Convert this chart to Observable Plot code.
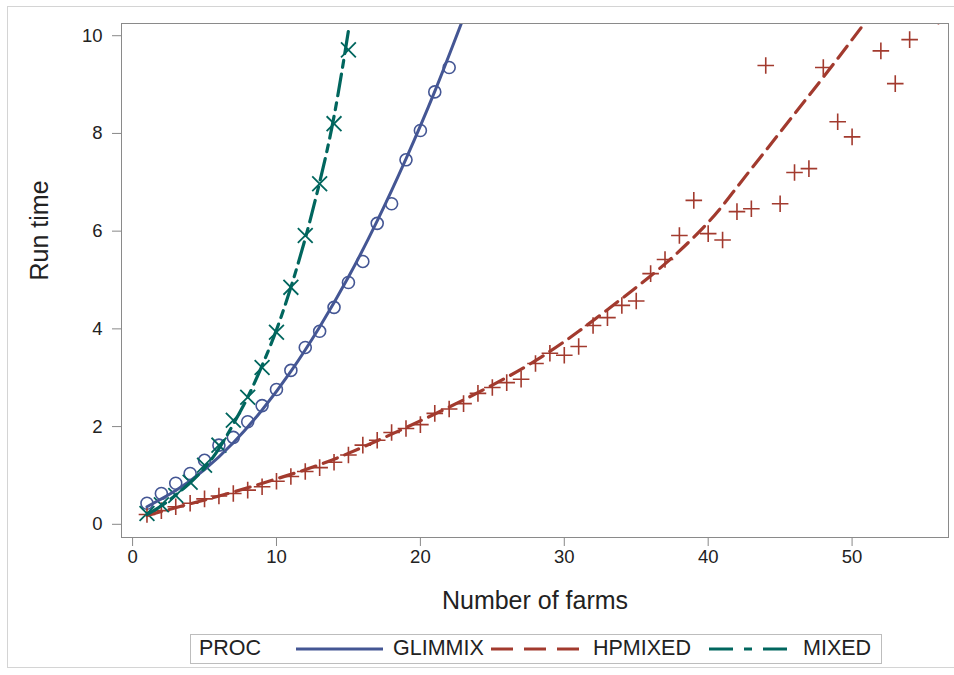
<!DOCTYPE html>
<html>
<head>
<meta charset="utf-8">
<script src="https://cdn.jsdelivr.net/npm/d3@7"></script>
<script src="https://cdn.jsdelivr.net/npm/@observablehq/plot@0.6"></script>
<style>
  body { margin: 0; background: #fff; font-family: "Liberation Sans", Arial, sans-serif; }
  #wrap { position: relative; width: 954px; height: 675px; overflow: hidden; }
  #outer { position: absolute; left: 7px; top: 6px; width: 960px; height: 662px; border: 1px solid #d4d4d4; box-sizing: border-box; }
  #chart { position: absolute; left: 0; top: 0; }
  #legend { position: absolute; left: 190px; top: 634px; width: 692px; height: 30px; border: 1px solid #bdbdbd; box-sizing: border-box; font-size: 21.5px; color: #222; white-space: nowrap; }
  #legend .t { position: absolute; top: 50%; transform: translateY(-50%); line-height: 1; }
  #legend svg { position: absolute; top: 9px; }
</style>
</head>
<body>
<div id="wrap">
  <div id="outer"></div>
  <div id="chart"></div>
  <div id="legend"></div>
</div>
<script>
// ---- data ----
const procs = ["GLIMMIX", "HPMIXED", "MIXED"];
const colors = ["#445694", "#A23A2E", "#01665E"];

// observed run times
const glimmixFarms = [1,2,3,4,5,6,7,8,9,10,11,12,13,14,15,16,17,18,19,20,21,22];
const glimmixTime  = [0.43,0.63,0.84,1.04,1.31,1.62,1.78,2.10,2.43,2.76,3.15,3.62,3.95,4.44,4.95,5.38,6.16,6.56,7.46,8.06,8.85,9.35];

const hpmixedFarms = [1,2,3,4,5,6,7,8,9,10,11,12,13,14,15,16,17,18,19,20,21,22,23,24,25,26,27,28,29,30,31,32,33,34,35,36,37,38,39,40,41,42,43,44,45,46,47,48,49,50,52,53,54,56];
const hpmixedTime  = [0.20,0.28,0.36,0.43,0.52,0.58,0.63,0.70,0.77,0.88,0.98,1.08,1.16,1.27,1.42,1.62,1.72,1.88,1.96,2.04,2.27,2.36,2.47,2.68,2.80,2.90,2.97,3.29,3.50,3.46,3.64,4.07,4.23,4.48,4.57,5.13,5.42,5.91,6.63,5.95,5.82,6.40,6.46,9.39,6.56,7.20,7.28,9.35,8.24,7.93,9.69,9.02,9.92,10.40];

const mixedFarms = [1,2,3,4,5,6,7,8,9,10,11,12,13,14,15];
const mixedTime  = [0.22,0.40,0.59,0.86,1.21,1.62,2.13,2.60,3.21,3.93,4.85,5.91,6.97,8.20,9.71];

// fitted curves
const glimmixFitFarms = [1,3,5,7,9,11,13,15,17,19,21,23];
const glimmixFit      = [0.36,0.69,1.12,1.67,2.34,3.13,4.04,5.06,6.21,7.48,8.86,10.37];

const hpmixedFitFarms = [1,4,7,10,13,16,19,22,25,28,31,34,37,40,42,44,46,48,50,52];
const hpmixedFit      = [0.18,0.42,0.66,0.93,1.22,1.58,1.98,2.40,2.85,3.35,3.95,4.62,5.33,6.18,6.90,7.65,8.40,9.15,9.92,10.70];

const mixedFitFarms = [1,2,3,4,5,6,7,8,9,10,11,12,13,14,15];
const mixedFit      = [0.20,0.38,0.60,0.85,1.15,1.55,2.05,2.60,3.25,3.98,4.85,5.85,7.00,8.35,10.10];

const xTicks = [0,10,20,30,40,50];
const yTicks = [0,2,4,6,8,10];

// ---- build tables ----
const zip = (xs, ys) => xs.map((x, i) => ({x, y: ys[i]}));
const obsG = zip(glimmixFarms, glimmixTime);
const obsH = zip(hpmixedFarms, hpmixedTime);
const obsM = zip(mixedFarms, mixedTime);
const fitG = zip(glimmixFitFarms, glimmixFit);
const fitH = zip(hpmixedFitFarms, hpmixedFit);
const fitM = zip(mixedFitFarms, mixedFit);

const dashes = {GLIMMIX: null, HPMIXED: "15,8", MIXED: "22,7,7,7"};

const chart = Plot.plot({
  width: 954,
  height: 620,
  marginLeft: 121,
  marginTop: 23,
  marginRight: 6,
  marginBottom: 83,
  style: {fontFamily: "'Liberation Sans', Arial, sans-serif", background: "transparent", color: "#222"},
  x: {domain: [-0.77, 56.7]},
  y: {domain: [-0.27, 10.25]},
  marks: [
    Plot.axisX({ticks: xTicks, tickSize: 9, tickPadding: 3, fontSize: 18.5, label: null, stroke: "#888", color: "#222"}),
    Plot.axisY({ticks: yTicks, tickSize: 9, tickPadding: 10, fontSize: 18.5, label: null, stroke: "#888", color: "#222"}),
    // observed points
    Plot.dot(obsG, {x: "x", y: "y", symbol: "circle", r: 6, stroke: colors[0], fill: "none", strokeWidth: 1.6, clip: true}),
    Plot.dot(obsH, {x: "x", y: "y", symbol: "plus", r: 5.4, stroke: colors[1], fill: "none", strokeWidth: 1.6, clip: true}),
    Plot.dot(obsM, {x: "x", y: "y", symbol: "times", r: 6.8, stroke: colors[2], fill: "none", strokeWidth: 1.8, clip: true}),
    // fitted lines
    Plot.line(fitG, {x: "x", y: "y", stroke: colors[0], strokeWidth: 3, curve: "natural", clip: true}),
    Plot.line(fitH, {x: "x", y: "y", stroke: colors[1], strokeWidth: 3.2, curve: "natural", strokeDasharray: dashes.HPMIXED, clip: true}),
    Plot.line(fitM, {x: "x", y: "y", stroke: colors[2], strokeWidth: 3.2, curve: "natural", strokeDasharray: dashes.MIXED, clip: true}),
    Plot.frame({stroke: "#8a8a8a"}),
    // axis titles
    Plot.text(["Number of farms"], {frameAnchor: "bottom", dy: 71, fontSize: 25, fill: "#222", text: d => d}),
    Plot.text(["Run time"], {frameAnchor: "left", dx: -82, rotate: -90, fontSize: 25, fill: "#222", text: d => d})
  ]
});
document.getElementById("chart").appendChild(chart);

// ---- legend (positions relative to legend box) ----
const legend = document.getElementById("legend");
function addText(txt, left) {
  const s = document.createElement("span");
  s.className = "t";
  s.textContent = txt;
  s.style.left = left + "px";
  legend.appendChild(s);
}
function addSample(color, dash, left, w) {
  const ns = "http://www.w3.org/2000/svg";
  const svg = document.createElementNS(ns, "svg");
  svg.setAttribute("width", w);
  svg.setAttribute("height", 10);
  svg.style.left = left + "px";
  const l = document.createElementNS(ns, "line");
  l.setAttribute("x1", 0); l.setAttribute("x2", w);
  l.setAttribute("y1", 5); l.setAttribute("y2", 5);
  l.setAttribute("stroke", color);
  l.setAttribute("stroke-width", 3.2);
  if (dash) l.setAttribute("stroke-dasharray", dash);
  svg.appendChild(l);
  legend.appendChild(svg);
}
const legendDash = {GLIMMIX: null, HPMIXED: "22,11", MIXED: "24,11,8,11"};
addText("PROC", 8);
addSample(colors[0], legendDash.GLIMMIX, 105, 87);
addText(procs[0], 202);
addSample(colors[1], legendDash.HPMIXED, 300, 89);
addText(procs[1], 402);
addSample(colors[2], legendDash.MIXED, 518, 86);
addText(procs[2], 612);
</script>
</body>
</html>
